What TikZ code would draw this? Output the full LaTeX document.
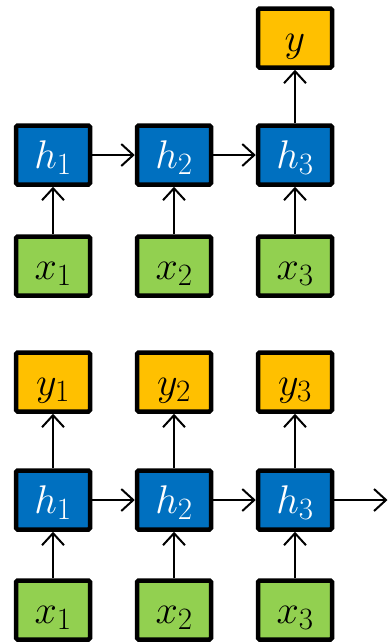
\documentclass[tikz,border=0pt]{standalone}
\usepackage{fix-cm}
\usepackage{tikz}
\usetikzlibrary{arrows.meta}

\DeclareMathSizes{40}{40}{31}{24}

\definecolor{hblue}{RGB}{0,112,192}
\definecolor{xgreen}{RGB}{146,208,80}
\definecolor{yorange}{RGB}{255,192,0}

\begin{document}
\begin{tikzpicture}[
    x=1pt, y=-1pt,
    >={Straight Barb[length=12pt,width=22pt]},
    cell/.style={
        draw=black, line width=4.5pt, rounded corners=1.5pt,
        minimum width=74pt, minimum height=59pt, inner sep=0pt,
        text height=31pt, text depth=4pt, font=\fontsize{40}{44}\selectfont
    },
    hid/.style={cell, fill=hblue, text=white},
    inp/.style={cell, fill=xgreen},
    outp/.style={cell, fill=yorange},
    conn/.style={->, line width=2pt}
]

\useasboundingbox (0,0) rectangle (388,643);

% -------------------------
% Many-to-one (top)
% -------------------------

\node[outp] (Y) at (295, 38) {$y$};

\node[hid] (H1) at (53, 155) {$h_1$};
\node[hid] (H2) at (174, 155) {$h_2$};
\node[hid] (H3) at (295, 155) {$h_3$};

\node[inp] (X1) at (53, 266) {$x_1$};
\node[inp] (X2) at (174, 266) {$x_2$};
\node[inp] (X3) at (295, 266) {$x_3$};

\draw[conn] (X1) -- (H1);
\draw[conn] (X2) -- (H2);
\draw[conn] (X3) -- (H3);
\draw[conn] (H1) -- (H2);
\draw[conn] (H2) -- (H3);
\draw[conn] (H3) -- (Y);

% -------------------------
% Many-to-many (bottom)
% -------------------------

\node[outp] (Yb1) at (53, 382) {$y_1$};
\node[outp] (Yb2) at (174, 382) {$y_2$};
\node[outp] (Yb3) at (295, 382) {$y_3$};

\node[hid] (Hb1) at (53, 500) {$h_1$};
\node[hid] (Hb2) at (174, 500) {$h_2$};
\node[hid] (Hb3) at (295, 500) {$h_3$};

\node[inp] (Xb1) at (53, 610) {$x_1$};
\node[inp] (Xb2) at (174, 610) {$x_2$};
\node[inp] (Xb3) at (295, 610) {$x_3$};

\coordinate (Next) at (387.5, 500);

\draw[conn] (Xb1) -- (Hb1);
\draw[conn] (Xb2) -- (Hb2);
\draw[conn] (Xb3) -- (Hb3);
\draw[conn] (Hb1) -- (Yb1);
\draw[conn] (Hb2) -- (Yb2);
\draw[conn] (Hb3) -- (Yb3);
\draw[conn] (Hb1) -- (Hb2);
\draw[conn] (Hb2) -- (Hb3);
\draw[conn] (Hb3) -- (Next);

\end{tikzpicture}
\end{document}
